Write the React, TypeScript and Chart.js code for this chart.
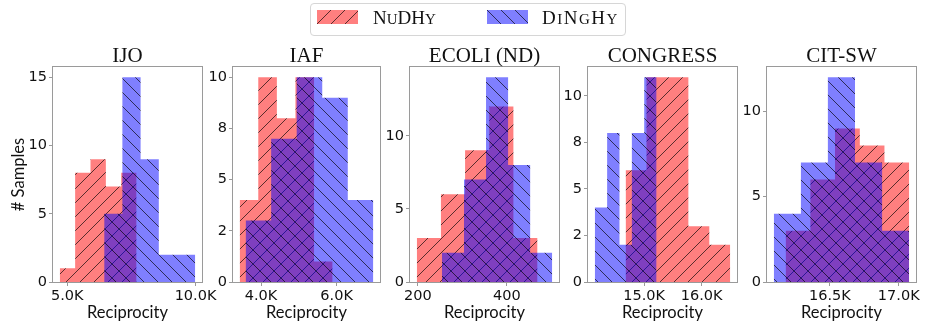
import React, { useEffect, useRef } from "react";
import { Chart, registerables } from "chart.js";

Chart.register(...registerables);

// ---------------- data ----------------
const SERIES_NAMES = ["NuDHy", "DiNgHy"];
const PANEL_TITLES = ["IJO", "IAF", "ECOLI (ND)", "CONGRESS", "CIT-SW"];
const X_AXIS_LABEL = "Reciprocity";
const Y_AXIS_LABEL = "# Samples";

// IJO
const IJO_NUDHY_EDGES = [4707, 5306, 5905, 6504, 7103, 7702];
const IJO_NUDHY_COUNTS = [1, 8, 9, 7, 8];
const IJO_DINGHY_EDGES = [6438, 7148, 7858, 8568, 9278, 9988];
const IJO_DINGHY_COUNTS = [5, 15, 9, 2, 2];
const IJO_X_TICKS = [5000, 10000];
const IJO_X_LABELS = ["5.0K", "10.0K"];
const IJO_Y_TICKS = [0, 5, 10, 15];
const IJO_Y_LABELS = ["0", "5", "10", "15"];

// IAF
const IAF_NUDHY_EDGES = [3434, 3926, 4418, 4910, 5402, 5894];
const IAF_NUDHY_COUNTS = [4, 10, 8, 10, 1];
const IAF_DINGHY_EDGES = [3591, 4267, 4943, 5619, 6295, 6971];
const IAF_DINGHY_COUNTS = [3, 7, 10, 9, 4];
const IAF_X_TICKS = [4000, 6000];
const IAF_X_LABELS = ["4.0K", "6.0K"];
const IAF_Y_TICKS = [0, 2.5, 5, 7.5, 10];
const IAF_Y_LABELS = ["0", "2", "5", "8", "10"];

// ECOLI (ND)
const ECOLI_NUDHY_EDGES = [197.5, 251.8, 306.1, 360.4, 414.7, 469];
const ECOLI_NUDHY_COUNTS = [3, 6, 9, 12, 3];
const ECOLI_DINGHY_EDGES = [254, 303.6, 353.2, 402.8, 452.4, 502];
const ECOLI_DINGHY_COUNTS = [2, 7, 14, 8, 2];
const ECOLI_X_TICKS = [200, 400];
const ECOLI_X_LABELS = ["200", "400"];
const ECOLI_Y_TICKS = [0, 5, 10];
const ECOLI_Y_LABELS = ["0", "5", "10"];

// CONGRESS
const CONGRESS_NUDHY_EDGES = [14677, 15041, 15405, 15769, 16133, 16497];
const CONGRESS_NUDHY_COUNTS = [6, 11, 11, 3, 2];
const CONGRESS_DINGHY_EDGES = [14141, 14356, 14571, 14786, 15001, 15216];
const CONGRESS_DINGHY_COUNTS = [4, 8, 2, 8, 11];
const CONGRESS_X_TICKS = [15000, 16000];
const CONGRESS_X_LABELS = ["15.0K", "16.0K"];
const CONGRESS_Y_TICKS = [0, 2.5, 5, 7.5, 10];
const CONGRESS_Y_LABELS = ["0", "2", "5", "8", "10"];

// CIT-SW
const CITSW_NUDHY_EDGES = [16178, 16358, 16537, 16717, 16896, 17076];
const CITSW_NUDHY_COUNTS = [3, 6, 9, 8, 7];
const CITSW_DINGHY_EDGES = [16092, 16289, 16485, 16682, 16879, 17075];
const CITSW_DINGHY_COUNTS = [4, 7, 12, 7, 3];
const CITSW_X_TICKS = [16500, 17000];
const CITSW_X_LABELS = ["16.5K", "17.0K"];
const CITSW_Y_TICKS = [0, 5, 10];
const CITSW_Y_LABELS = ["0", "5", "10"];

type PanelData = {
  title: string;
  nEdges: number[];
  nCounts: number[];
  dEdges: number[];
  dCounts: number[];
  xTicks: number[];
  xLabels: string[];
  yTicks: number[];
  yLabels: string[];
};

const PANELS: PanelData[] = [
  { title: PANEL_TITLES[0], nEdges: IJO_NUDHY_EDGES, nCounts: IJO_NUDHY_COUNTS, dEdges: IJO_DINGHY_EDGES, dCounts: IJO_DINGHY_COUNTS, xTicks: IJO_X_TICKS, xLabels: IJO_X_LABELS, yTicks: IJO_Y_TICKS, yLabels: IJO_Y_LABELS },
  { title: PANEL_TITLES[1], nEdges: IAF_NUDHY_EDGES, nCounts: IAF_NUDHY_COUNTS, dEdges: IAF_DINGHY_EDGES, dCounts: IAF_DINGHY_COUNTS, xTicks: IAF_X_TICKS, xLabels: IAF_X_LABELS, yTicks: IAF_Y_TICKS, yLabels: IAF_Y_LABELS },
  { title: PANEL_TITLES[2], nEdges: ECOLI_NUDHY_EDGES, nCounts: ECOLI_NUDHY_COUNTS, dEdges: ECOLI_DINGHY_EDGES, dCounts: ECOLI_DINGHY_COUNTS, xTicks: ECOLI_X_TICKS, xLabels: ECOLI_X_LABELS, yTicks: ECOLI_Y_TICKS, yLabels: ECOLI_Y_LABELS },
  { title: PANEL_TITLES[3], nEdges: CONGRESS_NUDHY_EDGES, nCounts: CONGRESS_NUDHY_COUNTS, dEdges: CONGRESS_DINGHY_EDGES, dCounts: CONGRESS_DINGHY_COUNTS, xTicks: CONGRESS_X_TICKS, xLabels: CONGRESS_X_LABELS, yTicks: CONGRESS_Y_TICKS, yLabels: CONGRESS_Y_LABELS },
  { title: PANEL_TITLES[4], nEdges: CITSW_NUDHY_EDGES, nCounts: CITSW_NUDHY_COUNTS, dEdges: CITSW_DINGHY_EDGES, dCounts: CITSW_DINGHY_COUNTS, xTicks: CITSW_X_TICKS, xLabels: CITSW_X_LABELS, yTicks: CITSW_Y_TICKS, yLabels: CITSW_Y_LABELS },
];

// ---------------- style / layout ----------------
const FIG_W = 927;
const FIG_H = 330;
const PLOT_LEFT = [53, 233, 410, 588, 767];
const PLOT_RIGHT = [202, 380, 559, 737, 916];
const PLOT_TOP = 67;
const PLOT_BOTTOM = 282;
const CANVAS_TOP = 40;
const Y_AXIS_W = [53, 50, 50, 50, 50];

const RED_FILL = "rgba(255,0,0,0.5)";
const BLUE_FILL = "rgba(0,0,255,0.5)";
const HATCH_COLOR = "rgba(0,0,0,0.65)";
const HATCH_SIZE = 14;
const SPINE = "#9a9a9a";
const TEXT = "#111";
const TICK_FONT = { family: "'DejaVu Sans', sans-serif", size: 14.5 };
const TITLE_FONT = "21px 'Liberation Serif', serif";
const LABEL_FONT = "16.5px Lato, 'Liberation Sans', sans-serif";

function makeHatchCanvas(fill: string, dir: "/" | "\\") {
  const s = HATCH_SIZE;
  const c = document.createElement("canvas");
  c.width = s;
  c.height = s;
  const g = c.getContext("2d")!;
  g.fillStyle = fill;
  g.fillRect(0, 0, s, s);
  g.strokeStyle = HATCH_COLOR;
  g.lineWidth = 1;
  g.beginPath();
  for (const k of [-s, 0, s]) {
    if (dir === "/") {
      g.moveTo(k - 2, s + 2);
      g.lineTo(k + s + 2, -2);
    } else {
      g.moveTo(k - 2, -2);
      g.lineTo(k + s + 2, s + 2);
    }
  }
  g.stroke();
  return c;
}

function stepPoints(edges: number[], counts: number[]) {
  const pts = counts.map((c, i) => ({ x: edges[i], y: c }));
  pts.push({ x: edges[edges.length - 1], y: counts[counts.length - 1] });
  return pts;
}

const framePlugin = {
  id: "frame",
  afterDatasetsDraw(chart: any) {
    const { ctx, chartArea: a } = chart;
    ctx.save();
    ctx.strokeStyle = SPINE;
    ctx.lineWidth = 1;
    ctx.strokeRect(a.left - 0.5, a.top - 0.5, a.right - a.left + 1, a.bottom - a.top + 1);
    ctx.restore();
  },
};

const textPlugin = {
  id: "panelText",
  afterDraw(chart: any, _args: any, opts: any) {
    const { ctx, chartArea: a } = chart;
    const cx = (a.left + a.right) / 2;
    ctx.save();
    ctx.fillStyle = TEXT;
    ctx.textAlign = "center";
    ctx.textBaseline = "alphabetic";
    ctx.font = TITLE_FONT;
    ctx.fillText(opts.title, cx, a.top - 5.3);
    ctx.font = LABEL_FONT;
    ctx.fillText(X_AXIS_LABEL, cx, a.bottom + 35.7);
    if (opts.yLabel) {
      ctx.translate(23.5, (a.top + a.bottom) / 2);
      ctx.rotate(-Math.PI / 2);
      ctx.fillText(opts.yLabel, 0, 0);
    }
    ctx.restore();
  },
};

function Panel({ idx }: { idx: number }) {
  const ref = useRef<HTMLCanvasElement>(null);
  const yW = Y_AXIS_W[idx];
  const L = PLOT_LEFT[idx];
  const R = PLOT_RIGHT[idx];
  const padR = Math.min(24, FIG_W - R);
  const left = L - yW;
  const w = yW + (R - L) + padR;
  const h = FIG_H - CANVAS_TOP;
  const xAxisH = FIG_H - PLOT_BOTTOM;

  useEffect(() => {
    const canvas = ref.current!;
    const ctx = canvas.getContext("2d")!;
    const p = PANELS[idx];
    const redPat = ctx.createPattern(makeHatchCanvas(RED_FILL, "/"), "repeat");
    const bluePat = ctx.createPattern(makeHatchCanvas(BLUE_FILL, "\\"), "repeat");
    const allEdges = [...p.nEdges, ...p.dEdges];
    const lo = Math.min(...allEdges);
    const hi = Math.max(...allEdges);
    const m = 0.05 * (hi - lo);
    const yMax = 1.05 * Math.max(...p.nCounts, ...p.dCounts);

    const chart = new Chart(canvas, {
      type: "line",
      data: {
        datasets: [
          {
            label: SERIES_NAMES[1],
            data: stepPoints(p.dEdges, p.dCounts),
            stepped: "before",
            fill: "origin",
            backgroundColor: bluePat as any,
            borderWidth: 0,
            borderColor: "rgba(0,0,0,0)",
            pointRadius: 0,
          },
          {
            label: SERIES_NAMES[0],
            data: stepPoints(p.nEdges, p.nCounts),
            stepped: "before",
            fill: "origin",
            backgroundColor: redPat as any,
            borderWidth: 0,
            borderColor: "rgba(0,0,0,0)",
            pointRadius: 0,
          },
        ],
      },
      options: {
        responsive: false,
        animation: false,
        devicePixelRatio: 1,
        events: [],
        layout: { padding: { top: PLOT_TOP - CANVAS_TOP, right: padR, bottom: 0, left: 0 } },
        plugins: {
          legend: { display: false },
          tooltip: { enabled: false },
          title: { display: false },
          panelText: { title: p.title, yLabel: idx === 0 ? Y_AXIS_LABEL : "" },
        } as any,
        scales: {
          x: {
            type: "linear",
            min: lo - m,
            max: hi + m,
            afterBuildTicks: (s: any) => {
              s.ticks = p.xTicks.map((v) => ({ value: v }));
            },
            afterFit: (s: any) => {
              s.height = xAxisH;
              s.paddingLeft = 0;
              s.paddingRight = 0;
            },
            ticks: {
              autoSkip: false,
              maxRotation: 0,
              minRotation: 0,
              padding: 2,
              color: TEXT,
              font: TICK_FONT,
              callback: (_v: any, i: number) => p.xLabels[i],
            },
            grid: { display: true, drawOnChartArea: false, drawTicks: true, tickLength: 4, color: SPINE },
            border: { display: false },
          },
          y: {
            type: "linear",
            min: 0,
            max: yMax,
            afterBuildTicks: (s: any) => {
              s.ticks = p.yTicks.map((v) => ({ value: v }));
            },
            afterFit: (s: any) => {
              s.width = yW;
              s.paddingTop = 0;
              s.paddingBottom = 0;
            },
            ticks: {
              autoSkip: false,
              padding: 2,
              color: TEXT,
              font: TICK_FONT,
              callback: (_v: any, i: number) => p.yLabels[i],
            },
            grid: { display: true, drawOnChartArea: false, drawTicks: true, tickLength: 4, color: SPINE },
            border: { display: false },
          },
        },
      } as any,
      plugins: [framePlugin, textPlugin],
    } as any);
    return () => chart.destroy();
  }, [idx]);

  return (
    <canvas
      ref={ref}
      width={w}
      height={h}
      style={{ position: "absolute", left, top: CANVAS_TOP, width: w, height: h }}
    />
  );
}

function Swatch({ fill, dir, left }: { fill: string; dir: "/" | "\\"; left: number }) {
  const ref = useRef<HTMLCanvasElement>(null);
  useEffect(() => {
    const c = ref.current!;
    const g = c.getContext("2d")!;
    g.clearRect(0, 0, c.width, c.height);
    const pat = g.createPattern(makeHatchCanvas(fill, dir), "repeat");
    g.fillStyle = pat as any;
    g.fillRect(0, 0, c.width, c.height);
  }, [fill, dir]);
  return (
    <canvas ref={ref} width={41} height={14} style={{ position: "absolute", left, top: 10, width: 41, height: 14 }} />
  );
}

const legendText: React.CSSProperties = {
  position: "absolute",
  top: 8,
  fontFamily: "'Liberation Serif', serif",
  fontVariant: "small-caps",
  fontSize: 19,
  lineHeight: "19px",
  color: TEXT,
  whiteSpace: "nowrap",
};

// Renders a name in small caps, slightly enlarging the lower-case (small-cap) letters
function SmallCapsName({ name, left, spacing }: { name: string; left: number; spacing: number }) {
  return (
    <span style={{ ...legendText, left, letterSpacing: spacing }}>
      {name.split("").map((ch, i) =>
        ch === ch.toLowerCase() ? (
          <span key={i} style={{ fontSize: "1.12em" }}>
            {ch}
          </span>
        ) : (
          <span key={i}>{ch}</span>
        )
      )}
    </span>
  );
}

export default function App() {
  return (
    <div
      style={{
        position: "absolute",
        left: 0,
        top: 0,
        width: FIG_W,
        height: FIG_H,
        overflow: "hidden",
        background: "#fff",
      }}
    >
      {PANELS.map((_, i) => (
        <Panel key={i} idx={i} />
      ))}
      <div
        style={{
          position: "absolute",
          left: 310,
          top: 3,
          width: 316,
          height: 33,
          boxSizing: "border-box",
          border: "1px solid #d6d6d6",
          borderRadius: 4,
          background: "#fff",
        }}
      />
      <Swatch fill={RED_FILL} dir="/" left={317} />
      <SmallCapsName name={SERIES_NAMES[0]} left={373} spacing={0} />
      <Swatch fill={BLUE_FILL} dir="\\" left={487} />
      <SmallCapsName name={SERIES_NAMES[1]} left={542} spacing={1.5} />
    </div>
  );
}
